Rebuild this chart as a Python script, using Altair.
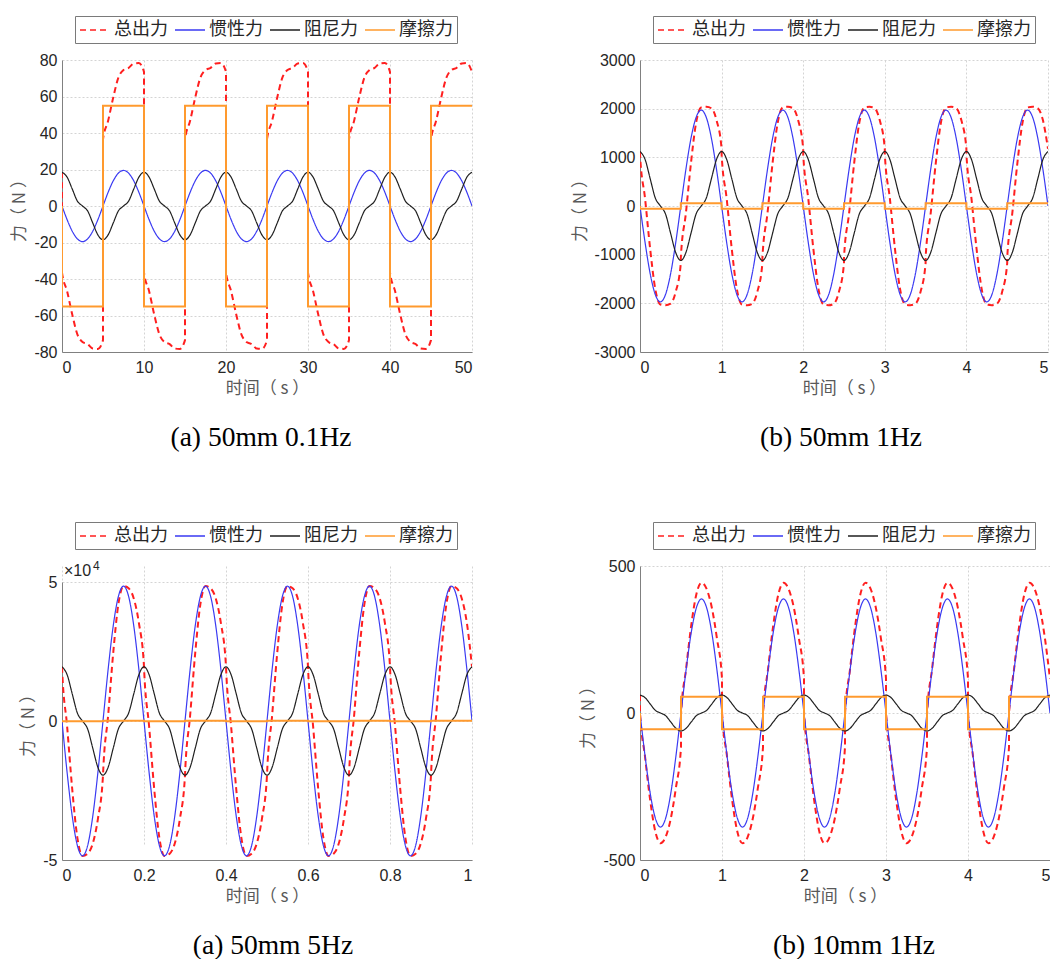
import altair as alt
import numpy as np
import pandas as pd

SERIES = ["总出力", "惯性力", "阻尼力", "摩擦力"]
COLORS = ["#ff1f1f", "#3a3af2", "#202020", "#ff9a2e"]
DASHES = [[6, 4], [1, 0], [1, 0], [1, 0]]
WIDTHS = [2.0, 1.2, 1.2, 2.0]
CAPTIONS = ["(a) 50mm 0.1Hz", "(b) 50mm 1Hz", "(a) 50mm 5Hz", "(b) 10mm 1Hz"]

# ---------------- (a) 50mm 0.1Hz : 0-50 s, samples every 0.625 s ----------------
p1_t_end = 50.0
p1_inertia = [
    0, -7.5, -13.8, -18.0, -19.5, -18.0, -13.8, -7.5, 0, 7.5, 13.8, 18.0, 19.5, 18.0, 13.8, 7.5,
    0, -7.5, -13.8, -18.0, -19.5, -18.0, -13.8, -7.5, 0, 7.5, 13.8, 18.0, 19.5, 18.0, 13.8, 7.5,
    0, -7.5, -13.8, -18.0, -19.5, -18.0, -13.8, -7.5, 0, 7.5, 13.8, 18.0, 19.5, 18.0, 13.8, 7.5,
    0, -7.5, -13.8, -18.0, -19.5, -18.0, -13.8, -7.5, 0, 7.5, 13.8, 18.0, 19.5, 18.0, 13.8, 7.5,
    0, -7.5, -13.8, -18.0, -19.5, -18.0, -13.8, -7.5, 0, 7.5, 13.8, 18.0, 19.5, 18.0, 13.8, 7.5,
    0]
p1_damping = [
    18.5, 15.8, 9.3, 2.7, 0, -2.7, -9.3, -15.8, -18.5, -15.8, -9.3, -2.7, 0, 2.7, 9.3, 15.8,
    18.5, 15.8, 9.3, 2.7, 0, -2.7, -9.3, -15.8, -18.5, -15.8, -9.3, -2.7, 0, 2.7, 9.3, 15.8,
    18.5, 15.8, 9.3, 2.7, 0, -2.7, -9.3, -15.8, -18.5, -15.8, -9.3, -2.7, 0, 2.7, 9.3, 15.8,
    18.5, 15.8, 9.3, 2.7, 0, -2.7, -9.3, -15.8, -18.5, -15.8, -9.3, -2.7, 0, 2.7, 9.3, 15.8,
    18.5, 15.8, 9.3, 2.7, 0, -2.7, -9.3, -15.8, -18.5, -15.8, -9.3, -2.7, 0, 2.7, 9.3, 15.8,
    18.5]
p1_total_start = 18.5
p1_total = [
    [-36.5, -46.7, -59.5, -70.3, -74.5, -75.7, -78.1, -78.3, -73.5],
    [36.5, 46.7, 59.5, 70.3, 74.5, 75.7, 78.1, 78.3, 73.5],
    [-36.5, -46.7, -59.5, -70.3, -74.5, -75.7, -78.1, -78.3, -73.5],
    [36.5, 46.7, 59.5, 70.3, 74.5, 75.7, 78.1, 78.3, 73.5],
    [-36.5, -46.7, -59.5, -70.3, -74.5, -75.7, -78.1, -78.3, -73.5],
    [36.5, 46.7, 59.5, 70.3, 74.5, 75.7, 78.1, 78.3, 73.5],
    [-36.5, -46.7, -59.5, -70.3, -74.5, -75.7, -78.1, -78.3, -73.5],
    [36.5, 46.7, 59.5, 70.3, 74.5, 75.7, 78.1, 78.3, 73.5],
    [-36.5, -46.7, -59.5, -70.3, -74.5, -75.7, -78.1, -78.3, -73.5],
    [36.5, 46.7, 59.5, 70.3, 74.5, 75.7, 78.1, 78.3, 73.5]]
p1_friction_start = 0
p1_friction = [-55, 55, -55, 55, -55, 55, -55, 55, -55, 55]

# ---------------- (b) 50mm 1Hz : 0-5 s, samples every 0.0625 s ----------------
p2_t_end = 5.0
p2_inertia = [
    0, -754, -1393, -1820, -1970, -1820, -1393, -754, 0, 754, 1393, 1820, 1970, 1820, 1393, 754,
    0, -754, -1393, -1820, -1970, -1820, -1393, -754, 0, 754, 1393, 1820, 1970, 1820, 1393, 754,
    0, -754, -1393, -1820, -1970, -1820, -1393, -754, 0, 754, 1393, 1820, 1970, 1820, 1393, 754,
    0, -754, -1393, -1820, -1970, -1820, -1393, -754, 0, 754, 1393, 1820, 1970, 1820, 1393, 754,
    0, -754, -1393, -1820, -1970, -1820, -1393, -754, 0, 754, 1393, 1820, 1970, 1820, 1393, 754,
    0]
p2_damping = [
    1120, 956, 560, 164, 0, -164, -560, -956, -1120, -956, -560, -164, 0, 164, 560, 956,
    1120, 956, 560, 164, 0, -164, -560, -956, -1120, -956, -560, -164, 0, 164, 560, 956,
    1120, 956, 560, 164, 0, -164, -560, -956, -1120, -956, -560, -164, 0, 164, 560, 956,
    1120, 956, 560, 164, 0, -164, -560, -956, -1120, -956, -560, -164, 0, 164, 560, 956,
    1120, 956, 560, 164, 0, -164, -560, -956, -1120, -956, -560, -164, 0, 164, 560, 956,
    1120]
p2_total_start = 1120
p2_total = [
    [1065, 147, -888, -1711, -2025, -2039, -2008, -1765, -1175],
    [-1065, -147, 888, 1711, 2025, 2039, 2008, 1765, 1175],
    [1065, 147, -888, -1711, -2025, -2039, -2008, -1765, -1175],
    [-1065, -147, 888, 1711, 2025, 2039, 2008, 1765, 1175],
    [1065, 147, -888, -1711, -2025, -2039, -2008, -1765, -1175],
    [-1065, -147, 888, 1711, 2025, 2039, 2008, 1765, 1175],
    [1065, 147, -888, -1711, -2025, -2039, -2008, -1765, -1175],
    [-1065, -147, 888, 1711, 2025, 2039, 2008, 1765, 1175],
    [1065, 147, -888, -1711, -2025, -2039, -2008, -1765, -1175],
    [-1065, -147, 888, 1711, 2025, 2039, 2008, 1765, 1175]]
p2_friction_start = 0
p2_friction = [-55, 55, -55, 55, -55, 55, -55, 55, -55, 55]

# ---------------- (a) 50mm 5Hz : 0-1 s, samples every 0.0125 s ----------------
p3_t_end = 1.0
p3_inertia = [
    0, -18560, -34290, -44810, -48500, -44810, -34290, -18560, 0, 18560, 34290, 44810, 48500, 44810, 34290, 18560,
    0, -18560, -34290, -44810, -48500, -44810, -34290, -18560, 0, 18560, 34290, 44810, 48500, 44810, 34290, 18560,
    0, -18560, -34290, -44810, -48500, -44810, -34290, -18560, 0, 18560, 34290, 44810, 48500, 44810, 34290, 18560,
    0, -18560, -34290, -44810, -48500, -44810, -34290, -18560, 0, 18560, 34290, 44810, 48500, 44810, 34290, 18560,
    0, -18560, -34290, -44810, -48500, -44810, -34290, -18560, 0, 18560, 34290, 44810, 48500, 44810, 34290, 18560,
    0]
p3_damping = [
    19500, 16650, 9750, 2850, 0, -2850, -9750, -16650, -19500, -16650, -9750, -2850, 0, 2850, 9750, 16650,
    19500, 16650, 9750, 2850, 0, -2850, -9750, -16650, -19500, -16650, -9750, -2850, 0, 2850, 9750, 16650,
    19500, 16650, 9750, 2850, 0, -2850, -9750, -16650, -19500, -16650, -9750, -2850, 0, 2850, 9750, 16650,
    19500, 16650, 9750, 2850, 0, -2850, -9750, -16650, -19500, -16650, -9750, -2850, 0, 2850, 9750, 16650,
    19500, 16650, 9750, 2850, 0, -2850, -9750, -16650, -19500, -16650, -9750, -2850, 0, 2850, 9750, 16650,
    19500]
p3_total_start = 19500
p3_total = [
    [19445, -1965, -24595, -42015, -48555, -47715, -44095, -35265, -19555],
    [-19445, 1965, 24595, 42015, 48555, 47715, 44095, 35265, 19555],
    [19445, -1965, -24595, -42015, -48555, -47715, -44095, -35265, -19555],
    [-19445, 1965, 24595, 42015, 48555, 47715, 44095, 35265, 19555],
    [19445, -1965, -24595, -42015, -48555, -47715, -44095, -35265, -19555],
    [-19445, 1965, 24595, 42015, 48555, 47715, 44095, 35265, 19555],
    [19445, -1965, -24595, -42015, -48555, -47715, -44095, -35265, -19555],
    [-19445, 1965, 24595, 42015, 48555, 47715, 44095, 35265, 19555],
    [19445, -1965, -24595, -42015, -48555, -47715, -44095, -35265, -19555],
    [-19445, 1965, 24595, 42015, 48555, 47715, 44095, 35265, 19555]]
p3_friction_start = 0
p3_friction = [-55, 55, -55, 55, -55, 55, -55, 55, -55, 55]

# ---------------- (b) 10mm 1Hz : 0-5 s, samples every 0.0625 s ----------------
p4_t_end = 5.0
p4_inertia = [
    0, -148, -274, -358, -388, -358, -274, -148, 0, 148, 274, 358, 388, 358, 274, 148,
    0, -148, -274, -358, -388, -358, -274, -148, 0, 148, 274, 358, 388, 358, 274, 148,
    0, -148, -274, -358, -388, -358, -274, -148, 0, 148, 274, 358, 388, 358, 274, 148,
    0, -148, -274, -358, -388, -358, -274, -148, 0, 148, 274, 358, 388, 358, 274, 148,
    0, -148, -274, -358, -388, -358, -274, -148, 0, 148, 274, 358, 388, 358, 274, 148,
    0]
p4_damping = [
    61, 52, 30.5, 8.9, 0, -8.9, -30.5, -52, -61, -52, -30.5, -8.9, 0, 8.9, 30.5, 52,
    61, 52, 30.5, 8.9, 0, -8.9, -30.5, -52, -61, -52, -30.5, -8.9, 0, 8.9, 30.5, 52,
    61, 52, 30.5, 8.9, 0, -8.9, -30.5, -52, -61, -52, -30.5, -8.9, 0, 8.9, 30.5, 52,
    61, 52, 30.5, 8.9, 0, -8.9, -30.5, -52, -61, -52, -30.5, -8.9, 0, 8.9, 30.5, 52,
    61, 52, 30.5, 8.9, 0, -8.9, -30.5, -52, -61, -52, -30.5, -8.9, 0, 8.9, 30.5, 52,
    61]
p4_total_start = 61
p4_total = [
    [6, -151, -298.5, -404.1, -443, -421.9, -359.5, -255, -116],
    [-6, 151, 298.5, 404.1, 443, 421.9, 359.5, 255, 116],
    [6, -151, -298.5, -404.1, -443, -421.9, -359.5, -255, -116],
    [-6, 151, 298.5, 404.1, 443, 421.9, 359.5, 255, 116],
    [6, -151, -298.5, -404.1, -443, -421.9, -359.5, -255, -116],
    [-6, 151, 298.5, 404.1, 443, 421.9, 359.5, 255, 116],
    [6, -151, -298.5, -404.1, -443, -421.9, -359.5, -255, -116],
    [-6, 151, 298.5, 404.1, 443, 421.9, 359.5, 255, 116],
    [6, -151, -298.5, -404.1, -443, -421.9, -359.5, -255, -116],
    [-6, 151, 298.5, 404.1, 443, 421.9, 359.5, 255, 116]]
p4_friction_start = 0
p4_friction = [-55, 55, -55, 55, -55, 55, -55, 55, -55, 55]


def build(t_end, inertia, damping, total_start, total_segs, fr_start, fr_levels):
    rows = []
    t = np.linspace(0, t_end, len(inertia))
    half = t_end / len(total_segs)
    rows.append(("总出力", 0.0, total_start))
    for j, seg in enumerate(total_segs):
        ts = np.linspace(j * half, (j + 1) * half, len(seg))
        rows += [("总出力", float(a), float(b)) for a, b in zip(ts, seg)]
    rows += [("惯性力", float(a), float(b)) for a, b in zip(t, inertia)]
    rows += [("阻尼力", float(a), float(b)) for a, b in zip(t, damping)]
    rows.append(("摩擦力", 0.0, float(fr_start)))
    for j, lv in enumerate(fr_levels):
        rows.append(("摩擦力", j * half, float(lv)))
        rows.append(("摩擦力", (j + 1) * half, float(lv)))
    df = pd.DataFrame(rows, columns=["series", "t", "F"])
    df["idx"] = np.arange(len(df))
    return df


def legend():
    # line symbol 30px long, entry height 18px
    return alt.Legend(title=None, orient="none", legendX=13, legendY=-44,
                      direction="horizontal", columns=4,
                      symbolType="M-1,0L2.3333,0", symbolSize=324,
                      symbolStrokeWidth=1.5,
                      labelFont="Noto Sans CJK SC", labelFontSize=18,
                      labelColor="#262626", labelOffset=15, columnPadding=4,
                      padding=4, strokeColor="#7a7a7a", fillColor="white")


def panel(df, x_dom, x_vals, y_dom, y_vals, w, h, caption, dx,
          y_range=None, y_label_expr="'' + datum.value", extra=None):
    xs = alt.X("t:Q", scale=alt.Scale(domain=x_dom, nice=False, zero=False),
               axis=alt.Axis(values=x_vals, title="时间（ s ）",
                             labelExpr="'' + datum.value"))
    if y_range is not None:
        ysc = alt.Scale(domain=y_dom, nice=False, zero=False, range=y_range)
    else:
        ysc = alt.Scale(domain=y_dom, nice=False, zero=False)
    ys = alt.Y("F:Q", scale=ysc,
               axis=alt.Axis(values=y_vals, title="力（ N ）", labelExpr=y_label_expr))
    color = alt.Color("series:N", scale=alt.Scale(domain=SERIES, range=COLORS),
                      legend=legend())
    dash = alt.StrokeDash("series:N", scale=alt.Scale(domain=SERIES, range=DASHES),
                          legend=legend())
    base = alt.Chart(df)
    layers = []
    for s, wd in zip(SERIES, WIDTHS):
        layers.append(
            base.transform_filter(alt.datum.series == s)
            .mark_line(interpolate="monotone", strokeWidth=wd, clip=True)
            .encode(x=xs, y=ys, color=color, strokeDash=dash, order="idx:Q")
        )
    if extra:
        layers += extra
    return alt.layer(*layers).properties(
        width=w, height=h,
        title=alt.TitleParams(caption, orient="bottom", anchor="middle", dx=dx,
                              offset=28, font="Liberation Serif", fontSize=27.5,
                              fontWeight="normal", color="black"))


df1 = build(p1_t_end, p1_inertia, p1_damping, p1_total_start, p1_total, p1_friction_start, p1_friction)
df2 = build(p2_t_end, p2_inertia, p2_damping, p2_total_start, p2_total, p2_friction_start, p2_friction)
df3 = build(p3_t_end, p3_inertia, p3_damping, p3_total_start, p3_total, p3_friction_start, p3_friction)
df4 = build(p4_t_end, p4_inertia, p4_damping, p4_total_start, p4_total, p4_friction_start, p4_friction)

exp_base = alt.Chart(pd.DataFrame({"s": ["×10"]})).mark_text(
    align="left", baseline="alphabetic", font="Liberation Sans", fontSize=16,
    color="#262626").encode(x=alt.value(2), y=alt.value(10), text="s:N")
exp_pow = alt.Chart(pd.DataFrame({"s": ["4"]})).mark_text(
    align="left", baseline="alphabetic", font="Liberation Sans", fontSize=12,
    color="#262626").encode(x=alt.value(31), y=alt.value(4), text="s:N")

c1 = panel(df1, [0, 50], [0, 10, 20, 30, 40, 50], [-80, 80],
           [-80, -60, -40, -20, 0, 20, 40, 60, 80], 410, 292, CAPTIONS[0], -6)
c2 = panel(df2, [0, 5], [0, 1, 2, 3, 4, 5], [-3000, 3000],
           [-3000, -2000, -1000, 0, 1000, 2000, 3000], 408, 292, CAPTIONS[1], -3)
c3 = panel(df3, [0, 1], [0, 0.2, 0.4, 0.6, 0.8, 1], [-50000, 50000],
           [-50000, 0, 50000], 410, 294, CAPTIONS[2], 6, y_range=[294, 16],
           y_label_expr="'' + datum.value / 10000", extra=[exp_base, exp_pow])
c4 = panel(df4, [0, 5], [0, 1, 2, 3, 4, 5], [-500, 500], [-500, 0, 500],
           410, 294, CAPTIONS[3], 9)

chart = alt.concat(
    c1, c2, c3, c4, columns=2, spacing={"row": 212, "column": 168},
    bounds="flush", align="all"
).resolve_scale(
    color="independent", strokeDash="independent", x="independent", y="independent"
).resolve_legend(
    color="independent", strokeDash="independent"
).properties(
    padding={"left": 10, "top": 15, "right": 0, "bottom": 0}
).configure_view(stroke=None).configure_axis(
    labelFont="Liberation Sans", labelFontSize=16, labelColor="#262626",
    titleFont="Noto Sans CJK SC", titleFontSize=17, titleFontWeight="normal",
    titleColor="#595959", gridColor="#d4d4d4", gridDash=[2, 2], gridWidth=1,
    domainColor="#808080", domainWidth=1, ticks=False, titlePadding=5
).configure_axisX(labelPadding=7).configure_axisY(labelPadding=5)

chart.save("out.html", embed_options={"renderer": "svg", "actions": False})
